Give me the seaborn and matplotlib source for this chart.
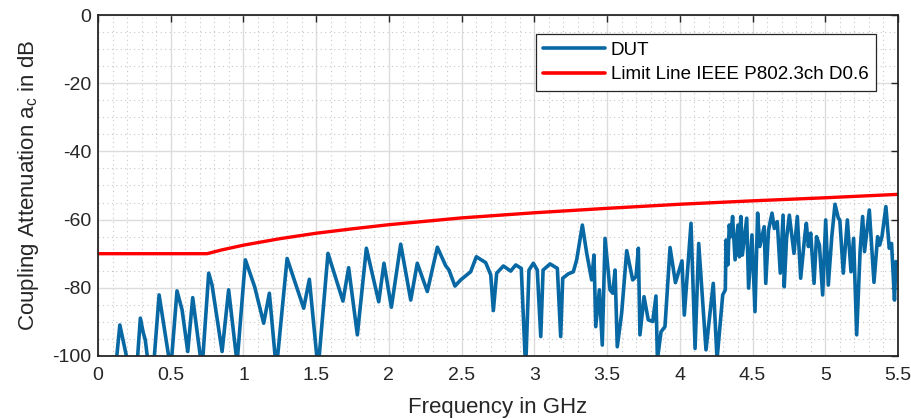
import numpy as np
import pandas as pd
import matplotlib
matplotlib.use("Agg")
import matplotlib.pyplot as plt
from matplotlib.ticker import MultipleLocator
import seaborn as sns

# ---- data ----
dut_f = [0.0, 0.02, 0.12, 0.15, 0.215, 0.266, 0.291, 0.31, 0.325, 0.35, 0.38, 0.42, 0.50,
         0.543, 0.578, 0.617, 0.651, 0.715, 0.761, 0.784, 0.853, 0.898, 0.956, 1.013, 1.077,
         1.139, 1.178, 1.226, 1.30, 1.414, 1.453, 1.513, 1.581, 1.684, 1.723, 1.783, 1.845,
         1.93, 1.966, 2.017, 2.081, 2.15, 2.195, 2.264, 2.333, 2.39, 2.413, 2.454, 2.493,
         2.562, 2.601, 2.665, 2.70, 2.718, 2.741, 2.787, 2.837, 2.872, 2.91, 2.94, 2.963,
         2.993, 3.02, 3.044, 3.06, 3.108, 3.158, 3.181, 3.195, 3.234, 3.268, 3.291, 3.33,
         3.36, 3.394, 3.41, 3.422, 3.447, 3.467, 3.486, 3.52, 3.539, 3.555, 3.57, 3.6,
         3.635, 3.676, 3.699, 3.715, 3.726, 3.754, 3.783, 3.814, 3.836, 3.846, 3.871, 3.898,
         3.933, 3.97, 4.015, 4.031, 4.077, 4.105, 4.13, 4.18, 4.23, 4.256, 4.295, 4.313,
         4.318, 4.33, 4.34, 4.35, 4.363, 4.38, 4.40, 4.41, 4.42, 4.43, 4.46, 4.473, 4.496,
         4.517, 4.535, 4.55, 4.58, 4.591, 4.61, 4.634, 4.65, 4.67, 4.691, 4.71, 4.718,
         4.734, 4.753, 4.785, 4.808, 4.831, 4.86, 4.87, 4.884, 4.90, 4.923, 4.94, 4.96,
         4.982, 5.003, 5.021, 5.045, 5.067, 5.09, 5.10, 5.124, 5.152, 5.177, 5.195, 5.216,
         5.24, 5.257, 5.27, 5.303, 5.335, 5.36, 5.374, 5.39, 5.417, 5.44, 5.456, 5.476,
         5.486, 5.5]
dut_db = [-100, -101, -104, -90.9, -104, -104, -88.9, -93, -95.3, -104, -104, -82.1, -104,
          -80.9, -86.5, -98.7, -82.9, -104, -75.7, -79.2, -98.7, -80.6, -102, -71.8, -79.7,
          -90.4, -81.6, -104, -71.4, -86.0, -77.5, -104, -69.9, -83.9, -74.1, -93.8, -68.4,
          -84.1, -72.8, -85.7, -67.2, -83.6, -72.8, -81.1, -68.1, -73.5, -74.8, -79.5, -77.7,
          -75.3, -70.9, -72.6, -76.2, -86.7, -75.7, -73.6, -75.1, -73.3, -74.3, -104, -74.8,
          -72.8, -74.8, -94.3, -74.8, -73.0, -74.3, -94.3, -77.2, -75.9, -75.3, -71.8, -61.6,
          -69.9, -77.7, -70.4, -91.4, -80.6, -96.8, -65.5, -80.6, -81.6, -74.8, -97.3, -87.5,
          -69.1, -77.7, -76.7, -68.4, -93.8, -82.6, -89.4, -89.9, -82.4, -101, -92.9, -91.4,
          -68.2, -78.5, -72.1, -88.0, -61.1, -97.8, -67.0, -98.2, -78.7, -101, -82.1, -80.6,
          -66.0, -73.3, -61.6, -65.0, -59.1, -71.8, -61.6, -70.9, -59.1, -70.4, -59.6, -80.1, -64.5,
          -87.0, -58.1, -67.9, -62.1, -78.7, -63.1, -58.1, -62.6, -60.6, -75.7, -58.7, -79.7,
          -65.5, -58.7, -69.9, -59.1, -77.2, -64.5, -61.1, -67.9, -64.0, -78.7, -65.0, -67.5,
          -82.1, -60.1, -79.2, -65.0, -55.5, -59.6, -60.1, -75.7, -60.1, -75.3, -65.5, -93.8,
          -68.9, -59.1, -69.4, -57.2, -78.4, -65.0, -67.5, -65.0, -56.2, -68.4, -67.0, -83.6,
          -72.3, -74.0]

limit_f = [0.0, 0.75, 0.85, 1.0, 1.25, 1.5, 1.75, 2.0, 2.5, 3.0, 3.5, 4.0, 4.5, 5.0, 5.5]
limit_db = [-70.0, -70.0, -68.9, -67.5, -65.6, -64.0, -62.7, -61.5, -59.5, -58.0, -56.7,
            -55.5, -54.5, -53.6, -52.6]

series_labels = ["DUT", "Limit Line IEEE P802.3ch D0.6"]
x_ticklabels = ['0', '0.5', '1', '1.5', '2', '2.5', '3', '3.5', '4', '4.5', '5', '5.5']
x_label = "Frequency in GHz"
y_label = "Coupling Attenuation a$_\\mathregular{c}$ in dB"

# ---- plotting ----
sns.set_style("white")
plt.rcParams['font.family'] = ['Liberation Sans', 'DejaVu Sans']
plt.rcParams['mathtext.fontset'] = 'custom'
plt.rcParams['mathtext.rm'] = 'Liberation Sans'
plt.rcParams['mathtext.it'] = 'Liberation Sans'
plt.rcParams['axes.unicode_minus'] = False

txt = '#262626'
fig = plt.figure(figsize=(9.11, 4.19), dpi=100)
ax = fig.add_axes([0.1076, 0.1504, 0.8781, 0.8138])

dut_df = pd.DataFrame({"f": dut_f, "db": dut_db})
lim_df = pd.DataFrame({"f": limit_f, "db": limit_db})

sns.lineplot(data=dut_df, x="f", y="db", ax=ax, color='#0868A3', lw=2.6,
             estimator=None, sort=False, label=series_labels[0],
             solid_joinstyle='round')
sns.lineplot(data=lim_df, x="f", y="db", ax=ax, color='#FF0000', lw=2.4,
             estimator=None, sort=False, label=series_labels[1])

ax.set_xlim(0, 5.5)
ax.set_ylim(-100, 0)
ax.xaxis.set_minor_locator(MultipleLocator(0.1))
ax.yaxis.set_major_locator(MultipleLocator(20))
ax.yaxis.set_minor_locator(MultipleLocator(5))
ax.set_xticks(np.arange(0, 5.51, 0.5))
ax.set_xticklabels(x_ticklabels)

ax.grid(which='major', color='#DCDCDC', lw=1.0, ls='-')
ax.grid(which='minor', color='#C8C8C8', lw=0.8, ls=(0, (1, 3)))
ax.set_axisbelow(True)

for s in ax.spines.values():
    s.set_visible(True)
    s.set_color(txt)
    s.set_linewidth(1.3)
ax.tick_params(which='major', direction='in', length=5, width=1.0, color=txt,
               top=True, right=True, labelsize=14, labelcolor=txt)
ax.tick_params(axis='x', pad=8)
ax.tick_params(axis='y', pad=5)
ax.tick_params(which='minor', length=0)

ax.set_xlabel(x_label, fontsize=16, color=txt, labelpad=9)
ax.set_ylabel(y_label, fontsize=16, color=txt, labelpad=8)

leg = ax.legend(loc='upper right', bbox_to_anchor=(0.9725, 0.944), fontsize=13.5,
                frameon=True, fancybox=False, handlelength=3.3, borderpad=0.4,
                labelspacing=0.4, borderaxespad=0.0, handletextpad=0.3)
leg.get_frame().set_edgecolor('#262626')
leg.get_frame().set_linewidth(0.9)
leg.get_frame().set_facecolor('white')
leg.get_frame().set_alpha(1.0)
for t in leg.get_texts():
    t.set_color('black')
for h in leg.get_lines():
    h.set_linewidth(2.6)

fig.savefig("out.png", dpi=100)
